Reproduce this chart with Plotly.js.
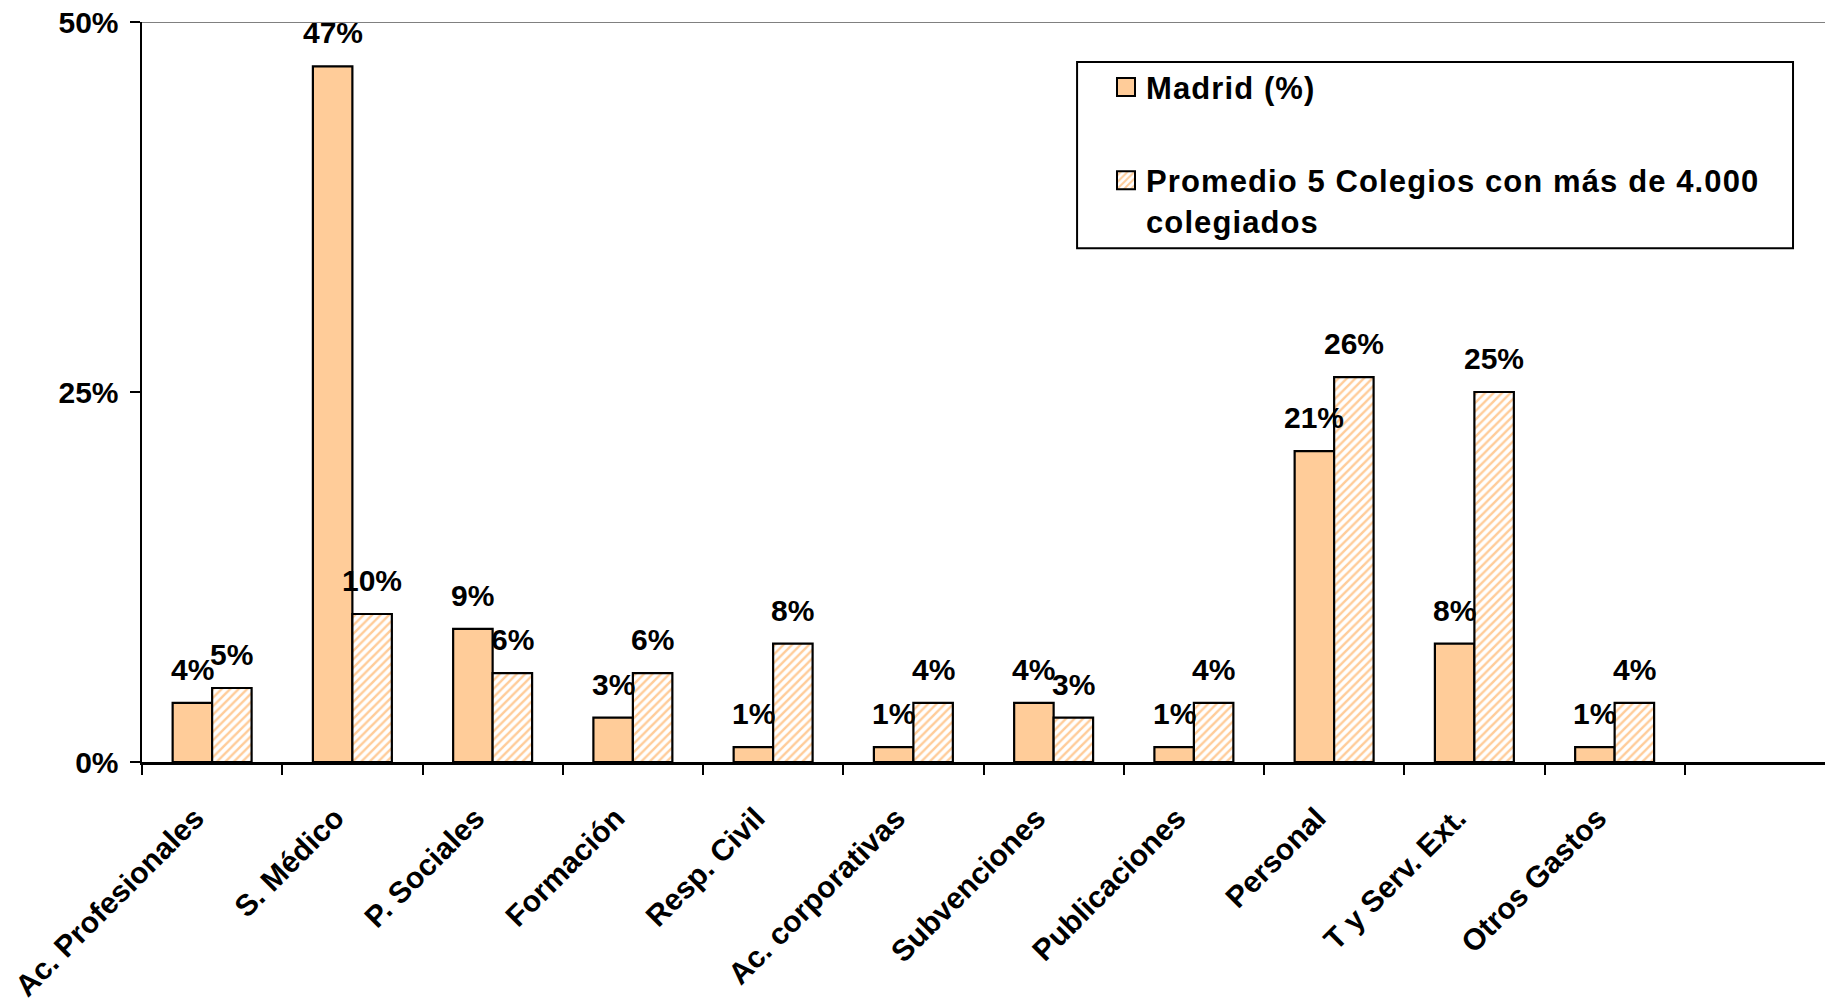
<!DOCTYPE html>
<html>
<head>
<meta charset="utf-8">
<script src="https://cdn.plot.ly/plotly-3.0.1.min.js"></script>
<style>
html,body{margin:0;padding:0;background:#fff;}
#chart{width:1825px;height:1001px;}
.legendtext{letter-spacing:1.1px;}
</style>
</head>
<body>
<div id="chart"></div>
<script>
const categories = ["Ac. Profesionales", "S. Médico", "P. Sociales", "Formación", "Resp. Civil", "Ac. corporativas", "Subvenciones", "Publicaciones", "Personal", "T y Serv. Ext.", "Otros Gastos"];
const madrid = [4, 47, 9, 3, 1, 1, 4, 1, 21, 8, 1];
const promedio = [5, 10, 6, 6, 8, 4, 3, 4, 26, 25, 4];
const seriesNames = ["Madrid (%)", "Promedio 5 Colegios con más de 4.000<br>colegiados"];
const yTicks = [0, 25, 50];
const yTickText = ["0%", "25%", "50%"];

const W = 1825, H = 1001;
const margin = {l: 142, r: 0, t: 22, b: 239};
const nSlots = 12;
const bargap = 0.437;
const slotPx = (W - margin.l - margin.r) / nSlots;
const barPx = slotPx * (1 - bargap) / 2;

const fam = "Liberation Sans, Arial, sans-serif";
const baseFont = {family: fam, size: 30, color: "#000", weight: "bold"};
const legendFont = {family: fam, size: 31, color: "#000", weight: "bold"};
const orange = "#FFCC99";

const traces = [
  {
    type: "bar", x: categories, y: madrid, name: seriesNames[0], legendgroup: "a",
    marker: {color: orange, line: {color: "#000", width: 2.2}},
    hoverinfo: "skip"
  },
  {
    type: "bar", x: categories, y: promedio, name: seriesNames[1], legendgroup: "b",
    marker: {color: orange, line: {color: "#000", width: 2.2},
      pattern: {shape: "/", fgcolor: orange, bgcolor: "#FFFFFF", size: 6, solidity: 0.4}},
    hoverinfo: "skip"
  }
];

const annotations = [];
[madrid, promedio].forEach((vals, s) => {
  vals.forEach((v, i) => {
    annotations.push({
      x: categories[i], y: v, xref: "x", yref: "y",
      text: v + "%", showarrow: false,
      xanchor: "center", yanchor: "bottom",
      xshift: (s === 0 ? -1 : 1) * barPx / 2, yshift: 15,
      font: baseFont
    });
  });
});

const layout = {
  width: W, height: H,
  margin: margin,
  paper_bgcolor: "#fff", plot_bgcolor: "#fff",
  font: baseFont,
  barmode: "group", bargap: bargap, bargroupgap: 0,
  showlegend: true,
  legend: {
    x: 0.5728, y: 0.9483, xanchor: "left", yanchor: "top",
    borderwidth: 0, bgcolor: "rgba(0,0,0,0)",
    font: legendFont, valign: "top", tracegroupgap: 50, traceorder: "grouped"
  },
  xaxis: {
    type: "category", range: [-0.5, nSlots - 0.5],
    showline: true, linecolor: "#000", linewidth: 2.5,
    ticks: "outside", tickson: "boundaries", ticklen: 10, tickwidth: 2, tickcolor: "#000",
    tickangle: -45, tickfont: baseFont, ticklabelstandoff: 24, ticklabelshift: -17,
    showgrid: false, zeroline: false, fixedrange: true
  },
  yaxis: {
    range: [0, 50], tickvals: yTicks, ticktext: yTickText,
    showline: true, linecolor: "#000", linewidth: 2.5,
    ticks: "outside", ticklen: 10, tickwidth: 2, tickcolor: "#000",
    tickfont: baseFont, ticklabelstandoff: 5,
    showgrid: false, zeroline: false, fixedrange: true
  },
  shapes: [
    {type: "line", xref: "paper", yref: "y", x0: 0, x1: 1, y0: 50, y1: 50,
     line: {color: "#808080", width: 2}, layer: "below"},
    {type: "rect", xref: "paper", yref: "paper", x0: 0.5556, x1: 0.981, y0: 0.6943, y1: 0.946,
     line: {color: "#000", width: 2}, fillcolor: "rgba(0,0,0,0)", layer: "below"}
  ],
  annotations: annotations
};

Plotly.newPlot("chart", traces, layout, {staticPlot: true, displayModeBar: false}).then(gd => {
  gd.querySelectorAll(".legendpoints path").forEach(p => {
    p.setAttribute("d", "M9,9H-9V-9H9Z");
    p.style.strokeWidth = "2px";
  });
});
</script>
</body>
</html>
